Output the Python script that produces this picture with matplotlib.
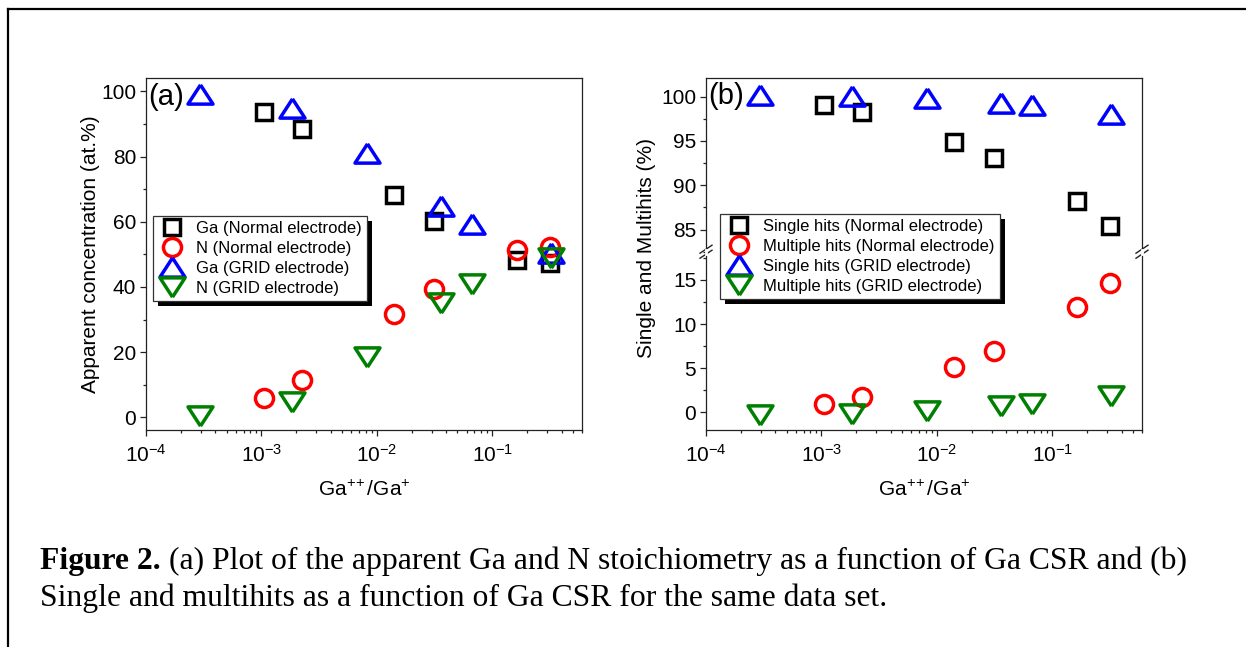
import matplotlib
matplotlib.use("Agg")
import matplotlib.pyplot as plt
from matplotlib.lines import Line2D
from matplotlib.patches import Rectangle
from matplotlib.ticker import LogLocator, MultipleLocator, NullFormatter
from matplotlib.transforms import IdentityTransform

plt.rcParams['font.family'] = ['Liberation Sans', 'DejaVu Sans']
plt.rcParams['mathtext.default'] = 'regular'

# ---------------- data ----------------
x_normal = [1.05e-3, 2.27e-3, 1.40e-2, 3.10e-2, 1.64e-1, 3.18e-1]
x_grid = [2.92e-4, 1.84e-3, 8.26e-3, 3.61e-2, 6.64e-2, 3.24e-1]

ga_normal = [93.6, 88.4, 68.1, 60.3, 48.3, 47.3]
n_normal = [6.0, 11.4, 31.7, 39.3, 51.3, 52.3]
ga_grid = [99.2, 95.0, 81.2, 64.7, 59.2, 50.5]
n_grid = [0.4, 4.6, 18.5, 35.1, 40.8, 48.8]

single_normal = [99.1, 98.3, 94.9, 93.1, 88.2, 85.4]
multi_normal = [0.9, 1.7, 5.1, 6.9, 11.9, 14.6]
single_grid = [100.2, 100.1, 99.8, 99.25, 99.06, 98.07]
multi_grid = [-0.3, -0.2, 0.2, 0.75, 1.0, 1.9]

labels_a = ["Ga (Normal electrode)", "N (Normal electrode)",
            "Ga (GRID electrode)", "N (GRID electrode)"]
labels_b = ["Single hits (Normal electrode)", "Multiple hits (Normal electrode)",
            "Single hits (GRID electrode)", "Multiple hits (GRID electrode)"]
xlabel = r"Ga$^{+\!+}$/Ga$^{+}$"
ylabel_a = "Apparent concentration (at.%)"
ylabel_b = "Single and Multihits (%)"
caption_bold = "Figure 2."
caption_rest = "(a) Plot of the apparent Ga and N stoichiometry as a function of Ga CSR and (b)"
caption_line2 = "Single and multihits as a function of Ga CSR for the same data set."

# ---------------- style ----------------
W, H = 1246, 647
fig = plt.figure(figsize=(W / 100, H / 100), dpi=100)


def fx(px):
    return px / W


def fy(py):
    return 1 - py / H


up_tri = [(0, 1), (-1.3, -1), (1.3, -1), (0, 1)]
dn_tri = [(0, -1), (-1.3, 1), (1.3, 1), (0, -1)]
mew = 2.5
styles = [
    dict(marker='s', ms=12, color='black'),
    dict(marker='o', ms=13, color='red'),
    dict(marker=up_tri, ms=18, color='blue'),
    dict(marker=dn_tri, ms=18, color='green'),
]
TICK_FS = 15
LEG_FS = 12


def plot_series(ax, x, y, st, label):
    return ax.plot(x, y, linestyle='none', marker=st['marker'], ms=st['ms'],
                   mfc='none', mec=st['color'], mew=mew, label=label,
                   clip_on=False)[0]


def style_axis(ax):
    ax.set_xscale('log')
    ax.set_xlim(1e-4, 0.6)
    ax.xaxis.set_major_locator(LogLocator(base=10, numticks=10))
    ax.xaxis.set_minor_locator(LogLocator(base=10, subs=range(2, 10), numticks=20))
    ax.xaxis.set_minor_formatter(NullFormatter())
    ax.tick_params(which='both', direction='out', top=False, right=False,
                   labelsize=TICK_FS, width=0.9, color='#222222')
    ax.tick_params(which='major', length=4, pad=3)
    ax.tick_params(which='minor', length=2.5)
    ax.tick_params(axis='x', which='major', pad=6)
    for s in ax.spines.values():
        s.set_linewidth(0.9)
        s.set_color('#222222')


# ---------------- panel (a) ----------------
axa = fig.add_axes([fx(146), fy(430), fx(582) - fx(146), fy(78) - fy(430)])
style_axis(axa)
axa.set_ylim(-3.9, 104.1)
axa.yaxis.set_major_locator(MultipleLocator(20))
axa.yaxis.set_minor_locator(MultipleLocator(10))
ha = []
for xs, ys, st, lb in zip([x_normal, x_normal, x_grid, x_grid],
                          [ga_normal, n_normal, ga_grid, n_grid], styles, labels_a):
    ha.append(plot_series(axa, xs, ys, st, lb))
axa.set_xlabel(xlabel, fontsize=TICK_FS, labelpad=10)
axa.set_ylabel(ylabel_a, fontsize=TICK_FS, labelpad=1)
axa.text(0.006, 0.946, "(a)", transform=axa.transAxes, fontsize=21,
         ha='left', va='center')

leg_kw = dict(fontsize=LEG_FS, frameon=True, fancybox=False, shadow=False,
              framealpha=1, edgecolor='#333333', borderpad=0.3,
              handlelength=1.7, handletextpad=0.6, labelspacing=0.3,
              borderaxespad=0, numpoints=1)
lega = axa.legend(handles=ha, loc='upper left',
                  bbox_to_anchor=(fx(152.7), fy(216)),
                  bbox_transform=fig.transFigure, **leg_kw)
lega.get_frame().set_linewidth(0.9)
lega.set_zorder(10)

# ---------------- panel (b) : broken axis ----------------
left_b = fx(706)
wid_b = fx(1142) - fx(706)
y_break = 251.7
axu = fig.add_axes([left_b, fy(y_break), wid_b, fy(78) - fy(y_break)])
axl = fig.add_axes([left_b, fy(430), wid_b, fy(y_break) - fy(430)])
for ax in (axu, axl):
    style_axis(ax)
axu.set_ylim(82.5, 102.1)
axl.set_ylim(-2.0, 18.2)
for ax in (axu, axl):
    ax.yaxis.set_major_locator(MultipleLocator(5))
    ax.yaxis.set_minor_locator(MultipleLocator(2.5))
axu.spines['bottom'].set_visible(False)
axl.spines['top'].set_visible(False)
axu.tick_params(axis='x', which='both', bottom=False, labelbottom=False)
axl.patch.set_alpha(0)

hb = [
    plot_series(axu, x_normal, single_normal, styles[0], labels_b[0]),
    plot_series(axl, x_normal, multi_normal, styles[1], labels_b[1]),
    plot_series(axu, x_grid, single_grid, styles[2], labels_b[2]),
    plot_series(axl, x_grid, multi_grid, styles[3], labels_b[3]),
]
axl.set_xlabel(xlabel, fontsize=TICK_FS, labelpad=10)
axu.text(0.006, 0.894, "(b)", transform=axu.transAxes, fontsize=21,
         ha='left', va='center')
fig.text(fx(646), fy(248), ylabel_b, rotation=90, fontsize=TICK_FS,
         ha='center', va='center')

legb = fig.legend(handles=hb, loc='upper left',
                  bbox_to_anchor=(fx(720), fy(214)),
                  bbox_transform=fig.transFigure, **leg_kw)
legb.get_frame().set_linewidth(0.9)
legb.set_zorder(10)

# break marks
for xb in (706, 1142):
    for dy in (-2.5, 2.5):
        fig.add_artist(Line2D([fx(xb - 6), fx(xb + 6)],
                              [fy(y_break + dy + 4), fy(y_break + dy - 4)],
                              color='#222222', lw=1.0))
    fig.add_artist(Line2D([fx(xb), fx(xb)], [fy(y_break - 2), fy(y_break + 2)],
                          color='white', lw=2.0, zorder=3))

# ---------------- caption ----------------
cap_fs = 22.8
tb = fig.text(fx(40), fy(561), caption_bold, fontsize=cap_fs, fontweight='bold',
              family=['Liberation Serif'], ha='left', va='center')
fig.text(fx(40), fy(598), caption_line2, fontsize=cap_fs,
         family=['Liberation Serif'], ha='left', va='center')

# outer frame
fig.add_artist(Line2D([fx(8), 1], [fy(9), fy(9)], color='black', lw=1.6))
fig.add_artist(Line2D([fx(8), fx(8)], [fy(9), 0], color='black', lw=1.6))

# legend shadows and caption continuation
fig.canvas.draw()
bbt = tb.get_window_extent()
fig.text((bbt.x1 + 8) / W, fy(561), caption_rest, fontsize=cap_fs,
         family=['Liberation Serif'], ha='left', va='center')
bb = lega.get_frame().get_window_extent()
axa.add_artist(Rectangle((bb.x0 + 5, bb.y0 - 5), bb.width, bb.height,
                         transform=IdentityTransform(), facecolor='black',
                         edgecolor='none', zorder=9, clip_on=False))
bb = legb.get_frame().get_window_extent()
fig.add_artist(Rectangle((bb.x0 + 5, bb.y0 - 5), bb.width, bb.height,
                         transform=IdentityTransform(), facecolor='black',
                         edgecolor='none', zorder=9))

fig.savefig("out.png", dpi=100)
